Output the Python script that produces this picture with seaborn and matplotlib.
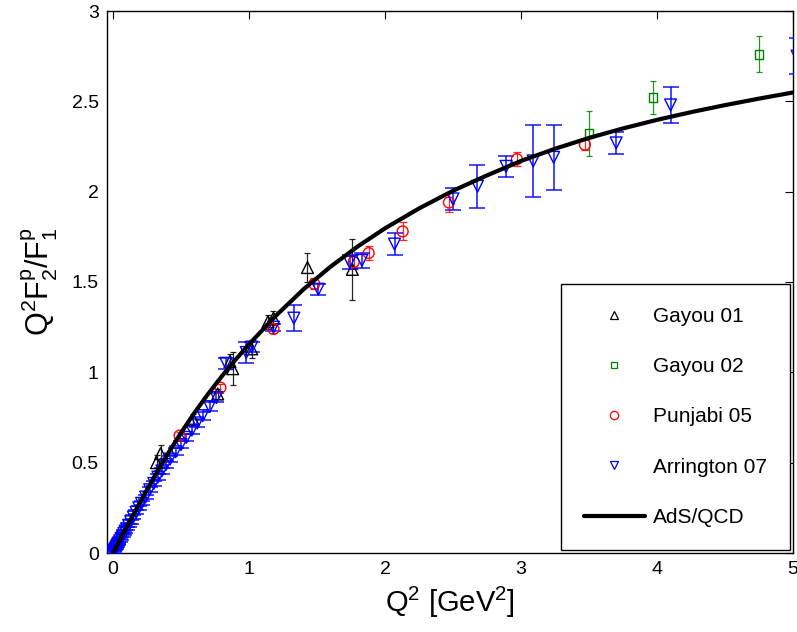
import numpy as np
import pandas as pd
import matplotlib
matplotlib.use("Agg")
import matplotlib.pyplot as plt
from matplotlib.lines import Line2D
from matplotlib.ticker import FormatStrFormatter
import seaborn as sns

# ---------------- data ----------------
# AdS/QCD curve
ads_q2 = [0, 0.1, 0.2, 0.3, 0.4, 0.5, 0.6, 0.7, 0.8, 0.9, 1.0, 1.2, 1.4, 1.6, 1.8,
          2.0, 2.25, 2.5, 2.75, 3.0, 3.25, 3.5, 3.75, 4.0, 4.25, 4.5, 4.75, 5.0]
ads_val = [0, 0.142, 0.282, 0.417, 0.545, 0.665, 0.777, 0.881, 0.978, 1.069, 1.155,
           1.315, 1.459, 1.585, 1.697, 1.797, 1.907, 2.005, 2.090, 2.170, 2.2375,
           2.2975, 2.350, 2.3975, 2.440, 2.479, 2.515, 2.549]

# Gayou 01
g01_q2 = [0.32, 0.35, 0.59, 0.77, 0.86, 0.88, 1.02, 1.14, 1.18, 1.43, 1.76]
g01_val = [0.50, 0.55, 0.74, 0.88, 1.06, 1.02, 1.13, 1.28, 1.30, 1.58, 1.57]
g01_err = [0.04, 0.05, 0.03, 0.03, 0.04, 0.09, 0.05, 0.04, 0.04, 0.08, 0.17]

# Gayou 02
g02_q2 = [3.50, 3.97, 4.75]
g02_val = [2.32, 2.52, 2.76]
g02_err = [0.125, 0.09, 0.10]

# Punjabi 05
p05_q2 = [0.49, 0.79, 1.18, 1.48, 1.77, 1.88, 2.13, 2.47, 2.97, 3.47]
p05_val = [0.65, 0.915, 1.24, 1.49, 1.61, 1.66, 1.78, 1.94, 2.18, 2.26]
p05_err = [0.02, 0.02, 0.02, 0.03, 0.04, 0.04, 0.05, 0.05, 0.04, 0.03]

# Arrington 07
a07_q2 = [0.005, 0.010, 0.015, 0.020, 0.025, 0.030, 0.035, 0.040, 0.050, 0.060,
          0.070, 0.080, 0.090, 0.100, 0.115, 0.130, 0.150, 0.170, 0.190, 0.210,
          0.240, 0.270, 0.300, 0.330, 0.360, 0.390, 0.420, 0.460, 0.500, 0.540,
          0.580, 0.620, 0.660, 0.710, 0.760, 0.83, 0.98, 1.02, 1.18, 1.33,
          1.51, 1.74, 1.83, 2.07, 2.50, 2.68, 2.89, 3.09, 3.24, 3.70,
          4.10, 5.03]
a07_val = [0.007, 0.014, 0.021, 0.028, 0.034, 0.041, 0.048, 0.055, 0.068, 0.081,
           0.095, 0.108, 0.121, 0.134, 0.153, 0.173, 0.199, 0.225, 0.250, 0.275,
           0.31, 0.35, 0.385, 0.42, 0.455, 0.49, 0.52, 0.56, 0.60, 0.64,
           0.68, 0.72, 0.76, 0.81, 0.86, 1.05, 1.11, 1.14, 1.25, 1.30,
           1.46, 1.61, 1.62, 1.71, 1.96, 2.03, 2.14, 2.17, 2.19, 2.27,
           2.48, 2.75]
a07_err = [0.005, 0.005, 0.005, 0.005, 0.005, 0.006, 0.006, 0.006, 0.007, 0.007,
           0.008, 0.008, 0.009, 0.009, 0.010, 0.010, 0.011, 0.011, 0.012, 0.012,
           0.013, 0.014, 0.015, 0.016, 0.016, 0.017, 0.018, 0.019, 0.020, 0.020,
           0.021, 0.022, 0.023, 0.024, 0.025, 0.03, 0.06, 0.03, 0.02, 0.07,
           0.03, 0.04, 0.04, 0.06, 0.06, 0.12, 0.06, 0.20, 0.18, 0.06,
           0.10, 0.10]

# ---------------- style ----------------
sns.set_theme(style="white")
plt.rcParams["font.family"] = ["Liberation Sans", "DejaVu Sans"]
plt.rcParams["mathtext.fontset"] = "custom"
plt.rcParams["mathtext.rm"] = "Liberation Sans"
plt.rcParams["mathtext.it"] = "Liberation Sans"
plt.rcParams["mathtext.bf"] = "Liberation Sans:bold"
for k in ["text.color", "axes.labelcolor", "xtick.color", "ytick.color"]:
    plt.rcParams[k] = "black"

fig = plt.figure(figsize=(7.97, 6.32), dpi=100)
ax = fig.add_axes([107 / 797, (632 - 553) / 632, 686 / 797, 542 / 632])

BLACK, GREEN, RED, BLUE = "#000000", "#008000", "#ff0000", "#0000ff"

series = [
    ("Gayou 01", g01_q2, g01_val, g01_err, "^", BLACK, 2.2, 8.5, 0.9),
    ("Gayou 02", g02_q2, g02_val, g02_err, "s", GREEN, 2.2, 6.3, 0.9),
    ("Punjabi 05", p05_q2, p05_val, p05_err, "o", RED, 3.0, 7.8, 0.9),
    ("Arrington 07", a07_q2, a07_val, a07_err, "v", BLUE, 5.8, 8.5, 1.2),
]

# AdS/QCD curve
ads_df = pd.DataFrame({"Q2": ads_q2, "val": ads_val})
sns.lineplot(data=ads_df, x="Q2", y="val", ax=ax, color="black", lw=3.0,
             zorder=5, legend=False)

for name, q, v, e, mk, col, cap, ms, lw in series:
    ax.errorbar(q, v, yerr=e, fmt="none", ecolor=col, elinewidth=lw,
                capsize=cap, capthick=lw, zorder=3, alpha=0.85)
    df = pd.DataFrame({"Q2": q, "val": v})
    sns.scatterplot(data=df, x="Q2", y="val", ax=ax, marker=mk, s=ms ** 2,
                    facecolors="none", edgecolor=col, linewidth=1.0, zorder=4,
                    legend=False)

ax.set_xlim(-0.044, 5)
ax.set_ylim(0, 3)
ax.set_xticks([0, 1, 2, 3, 4, 5])
ax.set_yticks([0, 0.5, 1, 1.5, 2, 2.5, 3])
ax.yaxis.set_major_formatter(FormatStrFormatter("%g"))
ax.tick_params(direction="in", length=6, width=0.8, top=True, right=True,
               labelsize=14, colors="black", pad=6)
for s in ax.spines.values():
    s.set_color("black")
    s.set_linewidth(1.0)

ax.set_xlabel(r"$\mathregular{Q^2}$ [GeV$\mathregular{^2}$]", fontsize=21, labelpad=5)
ax.set_ylabel(r"$\mathregular{Q^2F_2^p/F_1^p}$", fontsize=22, labelpad=8)

handles = [
    Line2D([], [], ls="none", marker="^", mfc="none", mec=BLACK, ms=6, mew=0.9, label="Gayou 01"),
    Line2D([], [], ls="none", marker="s", mfc="none", mec=GREEN, ms=5, mew=0.9, label="Gayou 02"),
    Line2D([], [], ls="none", marker="o", mfc="none", mec=RED, ms=6, mew=0.9, label="Punjabi 05"),
    Line2D([], [], ls="none", marker="v", mfc="none", mec=BLUE, ms=6, mew=0.9, label="Arrington 07"),
    Line2D([], [], color="black", lw=3, label="AdS/QCD"),
]
leg = ax.legend(handles=handles, loc="lower right", fontsize=15, frameon=True,
                fancybox=False, framealpha=1, edgecolor="black", borderpad=1.1,
                labelspacing=1.5, handlelength=2.9, handletextpad=0.4,
                borderaxespad=0.15)
leg.get_frame().set_linewidth(1.0)
leg.set_zorder(10)

fig.savefig("out.png", dpi=100)
